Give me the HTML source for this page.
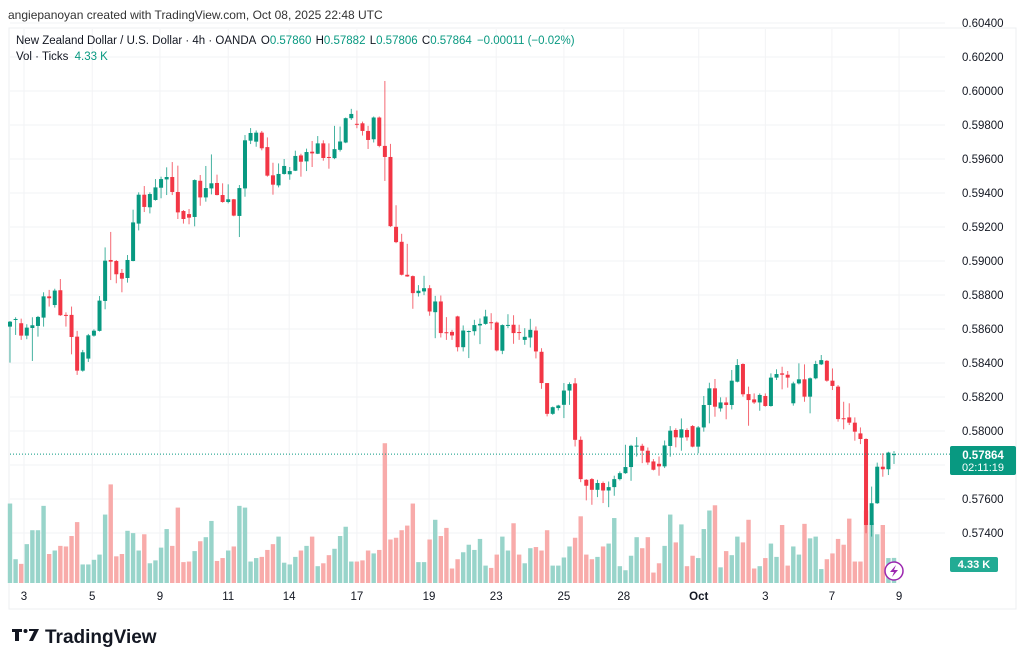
<!DOCTYPE html>
<html><head><meta charset="utf-8"><style>
html,body{margin:0;padding:0;background:#fff;width:1024px;height:665px;overflow:hidden}
svg{display:block;font-family:"Liberation Sans",sans-serif}
</style></head><body>
<svg id="c" width="1024" height="665" viewBox="0 0 1024 665">
<text x="8" y="19" font-size="12" fill="#333">angiepanoyan created with TradingView.com, Oct 08, 2025 22:48 UTC</text>
<rect x="9" y="28" width="1007" height="581" fill="none" stroke="#eceff2" stroke-width="1"/>
<g id="grid"></g>
<g id="vol"></g>
<g id="candles"></g>
<g id="yaxis"></g>
<g id="xaxis"></g>
<g font-size="11.5">
<text x="16" y="44" fill="#131722">New Zealand Dollar / U.S. Dollar · 4h · OANDA <tspan dx="2">O</tspan><tspan fill="#089981">0.57860</tspan> <tspan dx="1">H</tspan><tspan fill="#089981">0.57882</tspan> <tspan dx="1">L</tspan><tspan fill="#089981">0.57806</tspan> <tspan dx="1">C</tspan><tspan fill="#089981">0.57864</tspan> <tspan fill="#089981" dx="2">−0.00011 (−0.02%)</tspan></text>
<text x="16" y="60" fill="#131722">Vol · Ticks <tspan fill="#089981" dx="3">4.33 K</tspan></text>
</g>
<g>
<rect x="950" y="446" width="66" height="29" rx="2" fill="#089981"/>
<text x="983" y="459" font-size="11.5" fill="#fff" text-anchor="middle" font-weight="bold">0.57864</text>
<text x="983" y="471" font-size="11" fill="#fff" text-anchor="middle">02:11:19</text>
</g>
<g>
<rect x="950" y="557" width="48" height="15" rx="2" fill="#22ab94"/>
<text x="974" y="568" font-size="11" fill="#fff" text-anchor="middle" font-weight="bold">4.33 K</text>
</g>
<g>
<circle cx="894" cy="571" r="9" fill="#fff" stroke="#9c27b0" stroke-width="1.5"/>
<path d="M896 565 L890 572 L894 572 L892 577 L898 570 L894 570 Z" fill="#9c27b0"/>
</g>
<g>
<path d="M12 629 h10 v3 h-3 v9 h-4 v-9 h-3 z" fill="#131722"/>
<circle cx="25.5" cy="631" r="2" fill="#131722"/>
<path d="M29 629 h10 l-6 12 h-4 l5 -10 h-5 z" fill="#131722"/>
<text x="45" y="643" font-size="19" font-weight="bold" fill="#131722">TradingView</text>
</g>
</svg>
<script>
const opens=[0.58614,0.58655,0.58634,0.58561,0.58606,0.58618,0.58667,0.58792,0.58741,0.58828,0.58683,0.58683,0.58555,0.58355,0.58426,0.58561,0.58589,0.58765,0.59006,0.59000,0.58930,0.58900,0.59000,0.59220,0.59390,0.59316,0.59359,0.59431,0.59480,0.59494,0.59406,0.59294,0.59276,0.59259,0.59472,0.59374,0.59427,0.59459,0.59388,0.59347,0.59363,0.59265,0.59427,0.59708,0.59702,0.59755,0.59670,0.59504,0.59445,0.59512,0.59510,0.59531,0.59621,0.59586,0.59643,0.59631,0.59692,0.59612,0.59605,0.59654,0.59697,0.59840,0.59807,0.59810,0.59765,0.59716,0.59844,0.59677,0.59612,0.59201,0.59113,0.58919,0.58911,0.58811,0.58821,0.58840,0.58699,0.58762,0.58581,0.58583,0.58674,0.58493,0.58586,0.58587,0.58621,0.58630,0.58640,0.58638,0.58472,0.58622,0.58625,0.58582,0.58536,0.58550,0.58591,0.58466,0.58282,0.58101,0.58135,0.58154,0.58238,0.58280,0.57948,0.57713,0.57717,0.57654,0.57694,0.57650,0.57670,0.57717,0.57752,0.57788,0.57912,0.57913,0.57884,0.57821,0.57807,0.57792,0.57912,0.58006,0.57961,0.58006,0.58029,0.57908,0.58021,0.58153,0.58251,0.58133,0.58168,0.58153,0.58290,0.58394,0.58217,0.58186,0.58168,0.58206,0.58147,0.58314,0.58339,0.58331,0.58163,0.58280,0.58304,0.58202,0.58310,0.58392,0.58413,0.58296,0.58261,0.58075,0.58080,0.58049,0.57986,0.57953,0.57447,0.57575,0.57790,0.57775,0.57860];
const highs=[0.58647,0.58669,0.58661,0.58628,0.58669,0.58677,0.58816,0.58830,0.58837,0.58894,0.58698,0.58732,0.58589,0.58477,0.58571,0.58598,0.58794,0.59080,0.59171,0.59006,0.58953,0.59035,0.59302,0.59404,0.59441,0.59404,0.59482,0.59496,0.59551,0.59582,0.59561,0.59300,0.59306,0.59480,0.59506,0.59559,0.59627,0.59508,0.59457,0.59451,0.59365,0.59447,0.59741,0.59782,0.59768,0.59765,0.59727,0.59578,0.59574,0.59600,0.59553,0.59649,0.59631,0.59661,0.59706,0.59735,0.59710,0.59692,0.59795,0.59791,0.59844,0.59895,0.59885,0.59820,0.59795,0.59850,0.59850,0.60059,0.59689,0.59328,0.59160,0.59101,0.58915,0.58858,0.58913,0.58858,0.58795,0.58797,0.58670,0.58595,0.58678,0.58621,0.58591,0.58654,0.58662,0.58713,0.58693,0.58644,0.58627,0.58687,0.58681,0.58625,0.58605,0.58660,0.58615,0.58487,0.58282,0.58144,0.58154,0.58282,0.58286,0.58311,0.57968,0.57717,0.57723,0.57713,0.57703,0.57703,0.57737,0.57762,0.57919,0.57919,0.57964,0.57925,0.57903,0.57835,0.57850,0.57944,0.58029,0.58016,0.58074,0.58016,0.58035,0.58029,0.58206,0.58284,0.58306,0.58198,0.58198,0.58359,0.58423,0.58398,0.58261,0.58221,0.58221,0.58221,0.58339,0.58363,0.58378,0.58353,0.58290,0.58398,0.58392,0.58315,0.58413,0.58447,0.58417,0.58368,0.58270,0.58172,0.58163,0.58080,0.58021,0.57957,0.57673,0.57814,0.57869,0.57878,0.57882];
const lows=[0.58402,0.58565,0.58536,0.58540,0.58412,0.58555,0.58614,0.58732,0.58726,0.58677,0.58614,0.58451,0.58330,0.58349,0.58406,0.58555,0.58585,0.58716,0.58888,0.58869,0.58816,0.58873,0.58998,0.59180,0.59288,0.59280,0.59355,0.59369,0.59388,0.59388,0.59247,0.59220,0.59216,0.59204,0.59325,0.59349,0.59392,0.59386,0.59343,0.59339,0.59263,0.59141,0.59378,0.59688,0.59672,0.59651,0.59496,0.59390,0.59433,0.59508,0.59478,0.59529,0.59496,0.59529,0.59553,0.59629,0.59590,0.59543,0.59599,0.59644,0.59693,0.59830,0.59781,0.59738,0.59659,0.59697,0.59669,0.59471,0.59200,0.59105,0.58915,0.58907,0.58719,0.58791,0.58799,0.58678,0.58546,0.58550,0.58536,0.58536,0.58468,0.58468,0.58429,0.58562,0.58511,0.58625,0.58595,0.58468,0.58452,0.58605,0.58513,0.58536,0.58507,0.58491,0.58427,0.58248,0.58086,0.58095,0.58121,0.58076,0.58154,0.57909,0.57699,0.57592,0.57566,0.57611,0.57576,0.57552,0.57619,0.57709,0.57748,0.57707,0.57850,0.57811,0.57801,0.57768,0.57737,0.57782,0.57849,0.57904,0.57884,0.57943,0.57904,0.57869,0.57996,0.58045,0.58084,0.58114,0.58069,0.58127,0.58286,0.58202,0.58031,0.58159,0.58119,0.58143,0.58143,0.58300,0.58245,0.58255,0.58149,0.58274,0.58172,0.58104,0.58304,0.58388,0.58290,0.58241,0.58055,0.58010,0.58035,0.57943,0.57923,0.57398,0.57379,0.57571,0.57731,0.57741,0.57806];
const closes=[0.58643,0.58659,0.58561,0.58608,0.58622,0.58671,0.58792,0.58781,0.58826,0.58681,0.58682,0.58553,0.58355,0.58463,0.58563,0.58590,0.58767,0.59002,0.58996,0.58922,0.58896,0.59006,0.59227,0.59390,0.59318,0.59394,0.59433,0.59482,0.59494,0.59406,0.59286,0.59247,0.59255,0.59476,0.59374,0.59429,0.59457,0.59388,0.59347,0.59363,0.59267,0.59429,0.59710,0.59753,0.59755,0.59663,0.59502,0.59449,0.59512,0.59559,0.59529,0.59618,0.59584,0.59641,0.59633,0.59692,0.59606,0.59606,0.59658,0.59703,0.59840,0.59865,0.59805,0.59765,0.59712,0.59844,0.59677,0.59612,0.59205,0.59111,0.58919,0.58909,0.58811,0.58825,0.58840,0.58703,0.58762,0.58576,0.58579,0.58562,0.58493,0.58591,0.58588,0.58623,0.58630,0.58674,0.58634,0.58474,0.58623,0.58624,0.58576,0.58580,0.58554,0.58595,0.58468,0.58282,0.58101,0.58140,0.58150,0.58238,0.58276,0.57948,0.57717,0.57678,0.57654,0.57694,0.57650,0.57670,0.57717,0.57752,0.57788,0.57913,0.57914,0.57884,0.57815,0.57772,0.57792,0.57915,0.58002,0.57963,0.58010,0.57963,0.57908,0.58021,0.58153,0.58251,0.58143,0.58168,0.58153,0.58296,0.58388,0.58216,0.58182,0.58168,0.58212,0.58147,0.58314,0.58335,0.58331,0.58314,0.58280,0.58304,0.58202,0.58310,0.58394,0.58417,0.58296,0.58265,0.58070,0.58073,0.58049,0.57996,0.57953,0.57447,0.57575,0.57790,0.57775,0.57873,0.57864];
const volumes=[13.7,4.1,3.3,6.7,9.1,9.1,13.3,5.0,5.6,6.4,6.3,8.1,10.5,3.2,3.2,4.0,4.9,11.8,17.0,4.6,5.0,9.0,8.6,5.6,8.4,3.4,3.9,6.1,9.3,6.4,13.0,3.6,3.7,5.5,7.2,7.9,10.7,3.8,4.3,5.6,6.3,13.3,13.0,3.7,4.3,4.5,5.7,6.7,8.0,3.5,3.2,4.5,5.6,6.4,8.0,2.9,3.4,4.8,5.9,8.1,9.7,3.7,3.7,3.9,5.6,5.1,5.7,24.1,7.5,7.8,9.1,9.9,13.7,3.6,3.6,7.5,10.9,8.1,9.5,2.5,4.1,5.3,6.6,5.7,7.6,3.0,2.6,4.9,8.0,5.6,10.3,4.9,3.4,6.0,6.2,5.6,9.1,3.0,3.0,4.4,6.3,7.8,11.5,4.9,4.1,4.5,6.3,6.8,11.2,2.9,2.2,4.7,7.9,6.0,7.9,1.8,3.4,6.4,11.8,7.0,10.1,2.9,4.7,4.3,9.3,12.5,13.4,2.7,5.5,4.8,8.0,7.0,10.9,2.5,2.9,4.3,6.8,4.5,10.0,3.0,6.3,4.9,10.2,7.7,8.0,2.4,4.1,5.1,7.6,6.6,11.1,3.7,3.7,12.5,10.4,8.4,10.0,4.3,4.33];
const priceTicks=[0.574,0.576,0.578,0.580,0.582,0.584,0.586,0.588,0.590,0.592,0.594,0.596,0.598,0.600,0.602,0.604];
const dateLabels=["3","5","9","11","14","17","19","23","25","28","Oct","3","7","9"];
const dateIdx=[2.5,14.7,26.8,39,49.9,62,74.9,86.9,99,109.7,123.1,135,146.9,158.9];
const lastPrice=0.57864;

const NS="http://www.w3.org/2000/svg";
const X=i=>10+i*5.595;
const Y=p=>363-(p-0.584)*17000;
const VY=v=>583-v*5.8;
const PLOT_R=945;
function mk(tag,attrs,parent){const e=document.createElementNS(NS,tag);for(const k in attrs)e.setAttribute(k,attrs[k]);parent.appendChild(e);return e;}
const grid=document.getElementById('grid'),yax=document.getElementById('yaxis'),xax=document.getElementById('xaxis');
priceTicks.forEach(p=>{
  const y=Y(p);
  const ln=mk('line',{x1:10,x2:PLOT_R,y1:y,y2:y,stroke:'#f2f3f5','stroke-width':1},grid);
  
  
  const t=mk('text',{x:962,y:y+4,'font-size':11.5,fill:'#131722'},yax);
  t.textContent=p.toFixed(5);
  
  
});
dateIdx.forEach((d,k)=>{
  const x=X(d);
  const ln=mk('line',{x1:x,x2:x,y1:29,y2:583,stroke:'#f2f3f5','stroke-width':1},grid);
  
  
  const t=mk('text',{x:x,y:600,'font-size':11.5,fill:'#131722','text-anchor':'middle','font-weight':dateLabels[k]==='Oct'?'bold':'normal'},xax);
  t.textContent=dateLabels[k];
  
  
});
const vg=document.getElementById('vol'),cg=document.getElementById('candles');
for(let i=0;i<closes.length;i++){
  const up=closes[i]>=opens[i];
  const x=X(i);
  const vb=mk('rect',{x:x-2.2,y:VY(volumes[i]),width:4.4,height:583-VY(volumes[i]),fill:up?'#98d4ca':'#f8abaa'},vg);
  
  
  const col=up?'#089981':'#f23645';
  const g=mk('g',{},cg);
  
  
  mk('line',{x1:x,x2:x,y1:Y(highs[i]),y2:Y(lows[i]),stroke:col,'stroke-width':1,opacity:0.75},g);
  const top=Y(Math.max(opens[i],closes[i])),bot=Y(Math.min(opens[i],closes[i]));
  mk('rect',{x:x-2,y:top,width:4,height:Math.max(1,bot-top),fill:col},g);
}
const ly=Y(lastPrice);
const pl=mk('line',{x1:10,x2:950,y1:ly,y2:ly,stroke:'#089981','stroke-width':1,'stroke-dasharray':'1 2'},document.getElementById('c'));


</script>
</body></html>
